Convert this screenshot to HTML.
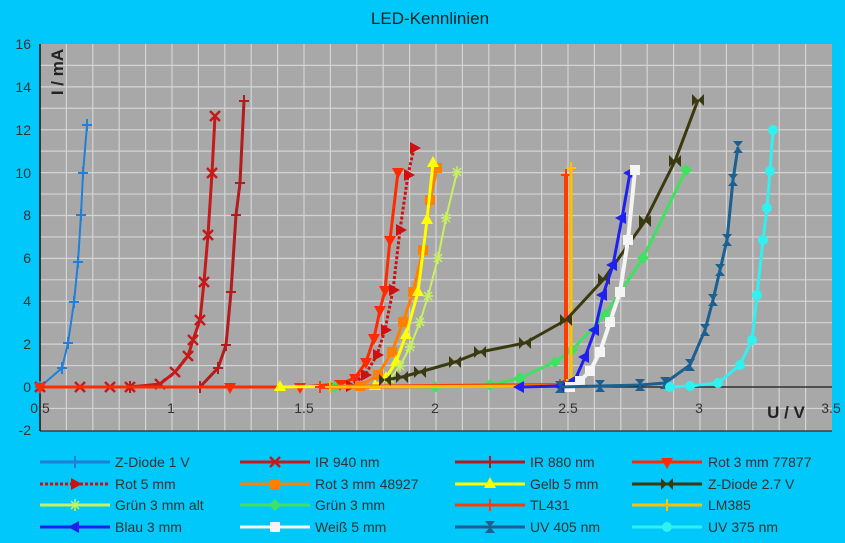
<!DOCTYPE html>
<html><head><meta charset="utf-8"><style>
body{margin:0;width:845px;height:543px;background:#00c8fa;overflow:hidden;font-family:"Liberation Sans",sans-serif}
</style></head><body>
<svg id="s" width="845" height="543" xmlns="http://www.w3.org/2000/svg" style="position:absolute;left:0;top:0">
<rect x="40" y="44" width="792" height="387" fill="#a9a8a8"/>
<g id="grid" stroke="#d4d4d4" stroke-width="1.2"></g>
<line x1="40" y1="44" x2="40" y2="431" stroke="#111" stroke-width="1.5"/>
<line x1="40" y1="431" x2="832" y2="431" stroke="#111" stroke-width="1"/>
<line x1="40" y1="387" x2="832" y2="387" stroke="#111" stroke-width="1.2"/>
<g id="ser"></g>
<g id="leg"></g>
<text x="430" y="24" font-size="17" fill="#222" text-anchor="middle">LED-Kennlinien</text>
<g font-size="14" fill="#333" text-anchor="end">
<text x="31" y="49">16</text><text x="31" y="92">14</text><text x="31" y="135">12</text><text x="31" y="178">10</text><text x="31" y="220">8</text><text x="31" y="263">6</text><text x="31" y="306">4</text><text x="31" y="349">2</text><text x="31" y="392">0</text><text x="31" y="435">-2</text>
</g>
<g font-size="14" fill="#333" text-anchor="middle">
<text x="40" y="413">0.5</text><text x="171" y="413">1</text><text x="304" y="413">1.5</text><text x="435" y="413">2</text><text x="568" y="413">2.5</text><text x="699" y="413">3</text><text x="831" y="413">3.5</text>
</g>
<text x="786" y="418" font-size="17" font-weight="bold" fill="#222" text-anchor="middle">U / V</text>
<text transform="translate(63,72) rotate(-90)" font-size="17" font-weight="bold" fill="#222" text-anchor="middle">I / mA</text>
<g font-size="14" fill="#333">
<text x="115" y="467">Z-Diode 1 V</text><text x="315" y="467">IR 940 nm</text><text x="530" y="467">IR 880 nm</text><text x="708" y="467">Rot 3 mm 77877</text>
<text x="115" y="489">Rot 5 mm</text><text x="315" y="489">Rot 3 mm 48927</text><text x="530" y="489">Gelb 5 mm</text><text x="708" y="489">Z-Diode 2.7 V</text>
<text x="115" y="510">Grün 3 mm alt</text><text x="315" y="510">Grün 3 mm</text><text x="530" y="510">TL431</text><text x="708" y="510">LM385</text>
<text x="115" y="532">Blau 3 mm</text><text x="315" y="532">Weiß 5 mm</text><text x="530" y="532">UV 405 nm</text><text x="708" y="532">UV 375 nm</text>
</g>
</svg>
<script>
var NS="http://www.w3.org/2000/svg",g=document.getElementById('grid'),S=document.getElementById('ser'),L=document.getElementById('leg');
function el(p,t,a){var e=document.createElementNS(NS,t);for(var k in a)e.setAttribute(k,a[k]);p.appendChild(e);return e}
for(var i=1;i<30;i++){var x=40+i*26.4;el(g,'line',{x1:x,y1:44,x2:x,y2:431})}
for(var j=-1;j<16;j++){var y=387-j*21.44;el(g,'line',{x1:40,y1:y,x2:832,y2:y})}
function mk(p,x,y,c,m){
 if(m=='sq')el(p,'rect',{x:x-5,y:y-5,width:10,height:10,fill:c});
 else if(m=='c')el(p,'circle',{cx:x,cy:y,r:5,fill:c});
 else if(m=='d')el(p,'polygon',{points:(x)+','+(y-6)+' '+(x+6)+','+y+' '+x+','+(y+6)+' '+(x-6)+','+y,fill:c});
 else if(m=='tu')el(p,'polygon',{points:x+','+(y-7)+' '+(x+6)+','+(y+4)+' '+(x-6)+','+(y+4),fill:c});
 else if(m=='td')el(p,'polygon',{points:x+','+(y+7)+' '+(x+6)+','+(y-4)+' '+(x-6)+','+(y-4),fill:c});
 else if(m=='tr')el(p,'polygon',{points:(x+7)+','+y+' '+(x-4)+','+(y-6)+' '+(x-4)+','+(y+6),fill:c});
 else if(m=='tl')el(p,'polygon',{points:(x-7)+','+y+' '+(x+4)+','+(y-6)+' '+(x+4)+','+(y+6),fill:c});
 else if(m=='x')el(p,'path',{d:'M'+(x-5)+','+(y-5)+'L'+(x+5)+','+(y+5)+'M'+(x+5)+','+(y-5)+'L'+(x-5)+','+(y+5),stroke:c,'stroke-width':2.5});
 else if(m=='p')el(p,'path',{d:'M'+(x-5)+','+y+'L'+(x+5)+','+y+'M'+x+','+(y-6)+'L'+x+','+(y+6),stroke:c,'stroke-width':2});
 else if(m=='bt')el(p,'polygon',{points:(x-6)+','+(y-6)+' '+(x+6)+','+(y+6)+' '+(x+6)+','+(y-6)+' '+(x-6)+','+(y+6),fill:c});
 else if(m=='hg')el(p,'polygon',{points:(x-5)+','+(y-6)+' '+(x+5)+','+(y+6)+' '+(x-5)+','+(y+6)+' '+(x+5)+','+(y-6),fill:c});
 else if(m=='st')el(p,'path',{d:'M'+(x-5)+','+y+'L'+(x+5)+','+y+'M'+x+','+(y-6)+'L'+x+','+(y+6)+'M'+(x-4)+','+(y-4)+'L'+(x+4)+','+(y+4)+'M'+(x+4)+','+(y-4)+'L'+(x-4)+','+(y+4),stroke:c,'stroke-width':1.5});
}
var D=[
['#1e80d8','p',2,0,[[40,387],[62,368],[68,343],[74,302],[78,262],[81,215],[83,173],[87,125]]],
['#c41a1a','x',3,0,[[40,387],[80,387],[110,387],[130,387],[160,384],[175,372],[188,356],[193,340],[200,320],[204,282],[208,235],[212,173],[215,116]]],
['#b31c1c','p',3,0,[[130,387],[200,387],[218,368],[226,345],[231,292],[236,215],[240,183],[244,101]]],
['#ff2a00','td',3,0,[[40,387],[230,387],[300,387],[340,384],[355,378],[366,362],[374,338],[380,310],[385,290],[390,240],[398,172]]],
['#d01010','tr',3,1,[[350,386],[365,375],[377,355],[385,330],[393,290],[400,230],[408,175],[414,148]]],
['#ff8000','sq',3,0,[[360,386],[378,375],[392,352],[403,322],[413,292],[423,250],[430,200],[437,168]]],
['#ffff00','tu',3,0,[[280,387],[375,386],[386,378],[396,362],[406,335],[418,292],[427,220],[433,163]]],
['#3a3a10','bt',3,0,[[385,380],[402,377],[420,372],[455,362],[480,352],[525,343],[566,320],[604,279],[645,221],[675,161],[698,100]]],
['#c8f060','st',2,0,[[390,379],[400,366],[410,347],[420,322],[428,296],[438,258],[446,218],[457,172]]],
['#40e060','d',3,0,[[335,387],[435,387],[490,385],[520,378],[555,362],[572,350],[605,315],[643,258],[686,170]]],
['#ff3c00','p',4,0,[[320,387],[560,385],[566,383],[566,175]]],
['#ffc000','p',3,0,[[330,387],[568,386],[571,380],[571,168]]],
['#2020f0','tl',3,0,[[520,387],[560,386],[575,380],[585,357],[595,330],[603,295],[613,265],[622,218],[630,173]]],
['#f4f4f4','sq',4,0,[[570,387],[580,381],[590,371],[600,352],[610,322],[620,292],[628,240],[635,170]]],
['#1a6090','hg',3,0,[[560,387],[600,386],[640,385],[665,383],[690,365],[705,330],[713,300],[720,270],[727,240],[733,180],[738,147]]],
['#30f0f0','c',3,0,[[670,387],[690,386],[718,383],[740,365],[752,340],[757,295],[763,240],[767,208],[770,171],[773,130]]]
];
var order=[0,1,2,3,4,5,6,8,9,10,11,7,12,13,14,15];
order.forEach(function(idx){
 var s=D[idx];
 var pts=s[4].map(function(p){return p.join(',')}).join(' ');
 var a={points:pts,fill:'none',stroke:s[0],'stroke-width':s[2],'stroke-linejoin':'round'};
 if(s[3])a['stroke-dasharray']='3,2';
 el(S,'polyline',a);
 s[4].forEach(function(p){mk(S,p[0],p[1],s[0],s[1])});
});
D.forEach(function(s,k){
 var cx=[40,240,455,632][k%4],cy=[462,484,505,527][Math.floor(k/4)];
 var b={x1:cx,y1:cy,x2:cx+70,y2:cy,stroke:s[0],'stroke-width':3};if(s[3])b['stroke-dasharray']='3,2';
 el(L,'line',b);mk(L,cx+35,cy,s[0],s[1]);
});
</script>
</body></html>
